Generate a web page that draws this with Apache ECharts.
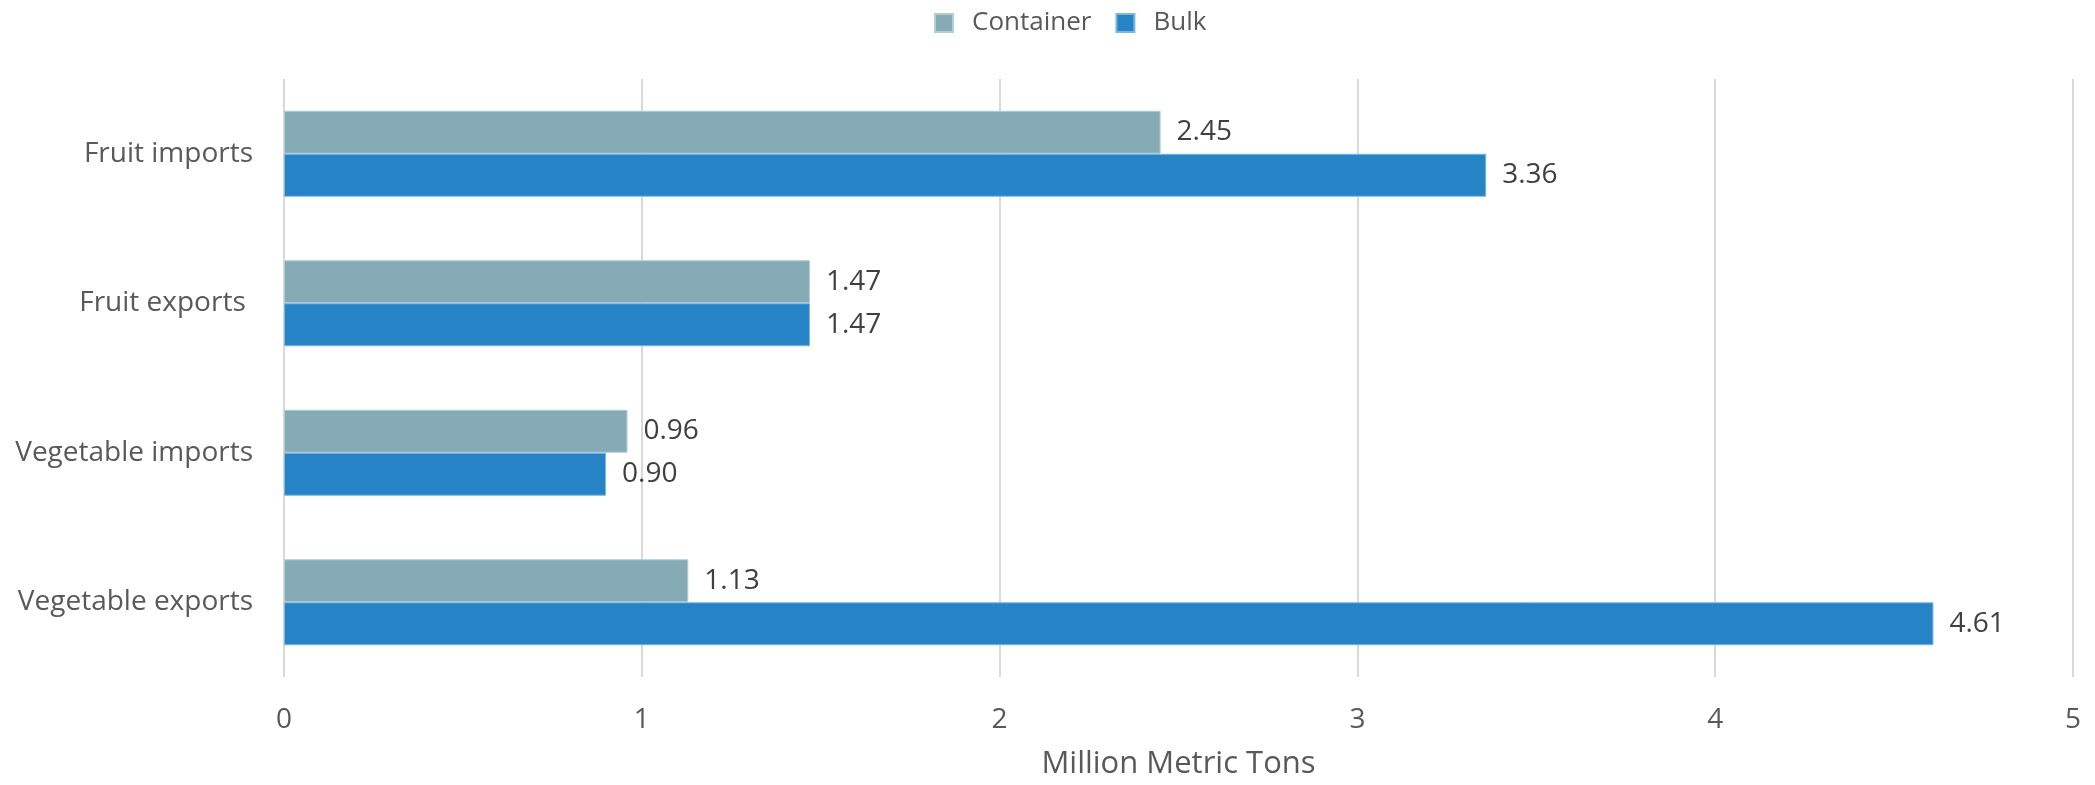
<!DOCTYPE html>
<html>
<head>
<meta charset="utf-8">
<script src="https://cdn.jsdelivr.net/npm/echarts@6/dist/echarts.min.js"></script>
<style>
  html, body { margin: 0; padding: 0; background: #ffffff; }
  #chart { width: 2095px; height: 785px; }
</style>
</head>
<body>
<div id="chart"></div>
<script>
// Produce trade volumes by shipping mode (million metric tons)
const categories = ['Fruit imports', 'Fruit exports ', 'Vegetable imports', 'Vegetable exports'];
const containerValues = [2.45, 1.47, 0.96, 1.13];
const bulkValues = [3.36, 1.47, 0.90, 4.61];
const xTicks = { min: 0, max: 5, interval: 1 };

const FONT = '"Open Sans", "Noto Sans", sans-serif';
const chart = echarts.init(document.getElementById('chart'), null, { renderer: 'canvas' });

const valueLabel = {
  show: true,
  position: 'right',
  distance: 16,
  fontFamily: FONT,
  fontSize: 28,
  color: '#404040',
  formatter: p => p.value.toFixed(2)
};

chart.setOption({
  animation: false,
  backgroundColor: '#ffffff',
  textStyle: { fontFamily: FONT },
  legend: {
    top: 5,
    left: 929,
    itemWidth: 18,
    itemHeight: 18,
    itemGap: 24,
    icon: 'rect',
    textStyle: { fontFamily: FONT, fontSize: 26, color: '#595959', padding: [0, 0, 0, 14] },
    data: ['Container', 'Bulk']
  },
  grid: { left: 284, right: 22, top: 79, bottom: 105, containLabel: false },
  xAxis: {
    type: 'value',
    min: xTicks.min,
    max: xTicks.max,
    interval: xTicks.interval,
    name: 'Million Metric Tons',
    nameLocation: 'middle',
    nameGap: 72,
    nameTextStyle: { fontFamily: FONT, fontSize: 31, color: '#595959' },
    axisLine: { show: false },
    axisTick: { show: false },
    axisLabel: { fontFamily: FONT, fontSize: 28, color: '#595959', margin: 29 },
    splitLine: { show: true, lineStyle: { color: '#d9d9d9', width: 2 } }
  },
  yAxis: {
    type: 'category',
    inverse: true,
    data: categories,
    axisLine: { show: false },
    axisTick: { show: false },
    axisLabel: { fontFamily: FONT, fontSize: 28, color: '#595959', margin: 31 }
  },
  series: [
    {
      name: 'Container',
      type: 'bar',
      data: containerValues,
      barWidth: 43,
      barGap: '0%',
      itemStyle: { color: '#85acb6', borderColor: '#b3cdd3', borderWidth: 1 },
      label: valueLabel
    },
    {
      name: 'Bulk',
      type: 'bar',
      data: bulkValues,
      barWidth: 43,
      barGap: '0%',
      itemStyle: { color: '#2683c6', borderColor: '#7fb6de', borderWidth: 1 },
      label: valueLabel
    }
  ]
});
</script>
</body>
</html>
